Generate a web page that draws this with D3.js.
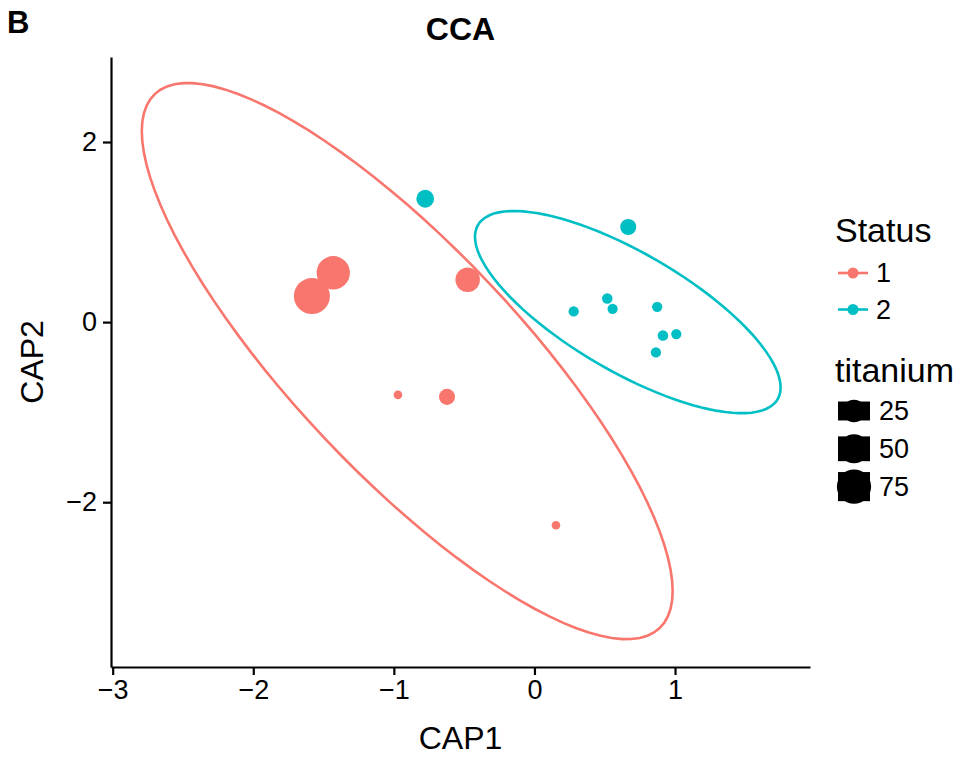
<!DOCTYPE html>
<html>
<head>
<meta charset="utf-8">
<script src="https://cdn.jsdelivr.net/npm/d3@7"></script>
<style>
  body { margin: 0; background: #fff; }
  svg { font-family: "Liberation Sans", Arial, Helvetica, sans-serif; }
  .axis path, .axis line { stroke: #000; stroke-width: 2.2; }
  .axis text { font-size: 27px; fill: #000; }
</style>
</head>
<body>
<div id="chart"></div>
<script>
// values
const statusGroups = ['1', '2'];
const statusColors = ['#F8766D', '#00BFC4'];

const cap1 = [-1.583, -1.431, -0.475, -0.971, -0.622, 0.153,
              -0.777, 0.667, 0.279, 0.518, 0.556, 0.873, 0.914, 1.009, 0.864];
const cap2 = [0.289, 0.548, 0.470, -0.808, -0.830, -2.256,
              1.370, 1.056, 0.119, 0.263, 0.148, 0.170, -0.148, -0.133, -0.337];
const status = ['1', '1', '1', '1', '1', '1',
                '2', '2', '2', '2', '2', '2', '2', '2', '2'];
const titanium = [85, 70, 32, 5, 11, 5,
                  14, 11, 5.3, 5.4, 5.3, 5.3, 5.4, 5.3, 5.3];

// ellipse per group: centre and two semi-axis vectors, in CAP units
const ellipseCenter = [[-0.905, -0.433], [0.664, 0.111]];
const ellipseAxisA  = [[1.888, -2.553], [1.087, -0.837]];
const ellipseAxisB  = [[0, -1.738], [0, -0.748]];

const xTicks = [-3, -2, -1, 0, 1];
const yTicks = [-2, 0, 2];
const sizeBreaks = [25, 50, 75];

class CcaPlot {
  constructor(_config) {
    this.config = {
      parentElement: _config.parentElement,
      containerWidth: 963,
      containerHeight: 758,
      margin: { top: 57, right: 153, bottom: 91, left: 111 }
    };
    this.initVis();
  }

  initVis() {
    let vis = this;
    vis.config.width = vis.config.containerWidth - vis.config.margin.left - vis.config.margin.right;
    vis.config.height = vis.config.containerHeight - vis.config.margin.top - vis.config.margin.bottom;

    vis.svg = d3.select(vis.config.parentElement).append('svg')
      .attr('width', vis.config.containerWidth)
      .attr('height', vis.config.containerHeight);

    vis.chart = vis.svg.append('g')
      .attr('transform', `translate(${vis.config.margin.left},${vis.config.margin.top})`);

    vis.xScale = d3.scaleLinear().domain([-3.012, 1.96]).range([0, vis.config.width]);
    vis.yScale = d3.scaleLinear().domain([-3.83, 2.944]).range([vis.config.height, 0]);
    vis.colorScale = d3.scaleOrdinal().domain(statusGroups).range(statusColors);

    // ggplot style size: rescale to 0-1, then area scale
    vis.sizeNorm = d3.scaleLinear().domain(d3.extent(titanium)).range([0, 1]);
    vis.areaScale = d3.scaleSqrt().domain([0, 1]).range([4.3, 18]);
    vis.radius = v => vis.areaScale(vis.sizeNorm(v));

    vis.data = cap1.map((d, i) => ({ x: d, y: cap2[i], status: status[i], titanium: titanium[i] }));
    vis.renderVis();
  }

  renderVis() {
    let vis = this;

    // points
    vis.chart.selectAll('.point')
      .data(vis.data)
      .join('circle')
      .attr('class', 'point')
      .attr('cx', d => vis.xScale(d.x))
      .attr('cy', d => vis.yScale(d.y))
      .attr('r', d => vis.radius(d.titanium))
      .attr('fill', d => vis.colorScale(d.status));

    // ellipses
    const line = d3.line()
      .x(p => vis.xScale(p[0]))
      .y(p => vis.yScale(p[1]));
    const steps = d3.range(0, 101).map(k => k / 100 * 2 * Math.PI);
    statusGroups.forEach((g, gi) => {
      const c = ellipseCenter[gi], a = ellipseAxisA[gi], b = ellipseAxisB[gi];
      const pts = steps.map(t => [
        c[0] + a[0] * Math.cos(t) + b[0] * Math.sin(t),
        c[1] + a[1] * Math.cos(t) + b[1] * Math.sin(t)
      ]);
      vis.chart.append('path')
        .attr('d', line(pts))
        .attr('fill', 'none')
        .attr('stroke', vis.colorScale(g))
        .attr('stroke-width', 2.6);
    });

    // axes
    const fmt = d3.format('d');
    vis.chart.append('g')
      .attr('class', 'axis')
      .attr('transform', `translate(0,${vis.config.height})`)
      .call(d3.axisBottom(vis.xScale).tickValues(xTicks).tickFormat(fmt)
        .tickSize(8).tickSizeOuter(0).tickPadding(5));

    vis.chart.append('g')
      .attr('class', 'axis')
      .call(d3.axisLeft(vis.yScale).tickValues(yTicks).tickFormat(fmt)
        .tickSize(8).tickSizeOuter(0).tickPadding(6));

    // titles
    const midX = vis.config.margin.left + vis.config.width / 2;
    vis.svg.append('text')
      .attr('x', midX).attr('y', 40)
      .attr('text-anchor', 'middle')
      .style('font-size', '32px').style('font-weight', 'bold')
      .text('CCA');

    vis.svg.append('text')
      .attr('x', 7).attr('y', 33)
      .style('font-size', '31px').style('font-weight', 'bold')
      .text('B');

    vis.svg.append('text')
      .attr('x', midX).attr('y', 749)
      .attr('text-anchor', 'middle')
      .style('font-size', '32px')
      .text('CAP1');

    vis.svg.append('text')
      .attr('transform', `translate(43,${vis.config.margin.top + vis.config.height / 2}) rotate(-90)`)
      .attr('text-anchor', 'middle')
      .style('font-size', '32px')
      .text('CAP2');

    vis.renderLegend();
  }

  renderLegend() {
    let vis = this;
    const lg = vis.svg.append('g').attr('class', 'legend');
    const keyX = 838, keyW = 30, textX = 876;

    lg.append('text').attr('x', 835).attr('y', 242)
      .style('font-size', '34px').text('Status');

    statusGroups.forEach((g, i) => {
      const y = 273 + i * 36.5;
      lg.append('line')
        .attr('x1', keyX).attr('x2', keyX + keyW)
        .attr('y1', y).attr('y2', y)
        .attr('stroke', vis.colorScale(g)).attr('stroke-width', 2.6);
      lg.append('circle')
        .attr('cx', keyX + keyW / 2).attr('cy', y).attr('r', 5.5)
        .attr('fill', vis.colorScale(g));
      lg.append('text').attr('x', textX).attr('y', y)
        .attr('dy', '0.35em').style('font-size', '27px').text(g);
    });

    lg.append('text').attr('x', 835).attr('y', 382)
      .style('font-size', '34px').text('titanium');

    sizeBreaks.forEach((v, i) => {
      const y = 411 + i * 37.8;
      const r = vis.radius(v);
      lg.append('rect')
        .attr('x', keyX).attr('width', keyW + 2)
        .attr('y', y - r * 0.85).attr('height', r * 1.7)
        .attr('fill', '#000');
      lg.append('circle')
        .attr('cx', keyX + (keyW + 2) / 2).attr('cy', y).attr('r', r)
        .attr('fill', '#000');
      lg.append('text').attr('x', textX + 3).attr('y', y)
        .attr('dy', '0.35em').style('font-size', '27px').text(v);
    });
  }
}

new CcaPlot({ parentElement: '#chart' });
</script>
</body>
</html>
